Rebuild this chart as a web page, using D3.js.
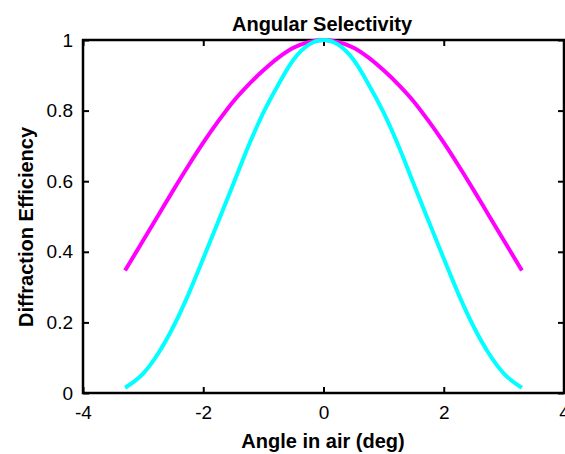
<!DOCTYPE html>
<html>
<head>
<meta charset="utf-8">
<script src="https://cdn.jsdelivr.net/npm/d3@7"></script>
<style>
  html, body { margin: 0; padding: 0; background: #fff; }
  svg { display: block; font-family: "Liberation Sans", Arial, Helvetica, sans-serif; }
</style>
</head>
<body>
<svg id="chart" width="565" height="454"></svg>
<script>
// angle in air (deg) and the two efficiency curves
const angles = [-3.3, -3, -2.75, -2.5, -2.25, -2, -1.75, -1.5, -1.25, -1, -0.75, -0.5, -0.25, 0,
                0.25, 0.5, 0.75, 1, 1.25, 1.5, 1.75, 2, 2.25, 2.5, 2.75, 3, 3.3];
const wideCurve = [0.347, 0.432, 0.503, 0.574, 0.643, 0.709, 0.770, 0.826, 0.873, 0.914, 0.950, 0.978, 0.994, 1,
                   0.994, 0.978, 0.950, 0.914, 0.873, 0.826, 0.770, 0.709, 0.643, 0.574, 0.503, 0.432, 0.347];
const narrowCurve = [0.015, 0.055, 0.112, 0.187, 0.278, 0.381, 0.486, 0.592, 0.699, 0.794, 0.874, 0.944, 0.986, 1,
                     0.986, 0.944, 0.874, 0.794, 0.699, 0.592, 0.486, 0.381, 0.278, 0.187, 0.112, 0.055, 0.015];
const xTicks = [-4, -2, 0, 2, 4];
const yTicks = [0, 0.2, 0.4, 0.6, 0.8, 1];

const width = 565, height = 454;
const margin = { top: 40, right: 1, bottom: 61, left: 83 };
const innerW = width - margin.left - margin.right;
const innerH = height - margin.top - margin.bottom;

const svg = d3.select("#chart");
const g = svg.append("g").attr("transform", `translate(${margin.left},${margin.top})`);

const x = d3.scaleLinear().domain([-4, 4]).range([0, innerW]);
const y = d3.scaleLinear().domain([0, 1]).range([innerH, 0]);

const tickFont = "19px 'Liberation Sans', Arial, sans-serif";
const labelFont = "bold 20px 'Liberation Sans', Arial, sans-serif";

// bottom axis with labels, ticks pointing inward
g.append("g")
  .attr("transform", `translate(0,${innerH})`)
  .call(d3.axisBottom(x).tickValues(xTicks).tickSize(-6).tickPadding(13).tickFormat(d => String(d)))
  .call(a => a.select(".domain").remove())
  .call(a => a.selectAll("line").attr("stroke-width", 2))
  .call(a => a.selectAll("text").style("font", tickFont).attr("fill", "#000"));

// top ticks
g.append("g")
  .call(d3.axisTop(x).tickValues(xTicks).tickSize(-6).tickFormat(""))
  .call(a => a.select(".domain").remove())
  .call(a => a.selectAll("line").attr("stroke-width", 2));

// left axis
g.append("g")
  .call(d3.axisLeft(y).tickValues(yTicks).tickSize(-6).tickPadding(10).tickFormat(d => String(d)))
  .call(a => a.select(".domain").remove())
  .call(a => a.selectAll("line").attr("stroke-width", 2))
  .call(a => a.selectAll("text").style("font", tickFont).attr("fill", "#000"));

// right ticks
g.append("g")
  .attr("transform", `translate(${innerW},0)`)
  .call(d3.axisRight(y).tickValues(yTicks).tickSize(-6).tickFormat(""))
  .call(a => a.select(".domain").remove())
  .call(a => a.selectAll("line").attr("stroke-width", 2));

// frame
g.append("rect")
  .attr("x", 0).attr("y", 0)
  .attr("width", innerW).attr("height", innerH)
  .attr("fill", "none").attr("stroke", "#000").attr("stroke-width", 2.5);

const line = d3.line()
  .x(d => x(d[0]))
  .y(d => y(d[1]))
  .curve(d3.curveMonotoneX);

g.append("path")
  .datum(angles.map((a, i) => [a, wideCurve[i]]))
  .attr("d", line)
  .attr("fill", "none")
  .attr("stroke", "#ff00ff")
  .attr("stroke-width", 4);

g.append("path")
  .datum(angles.map((a, i) => [a, narrowCurve[i]]))
  .attr("d", line)
  .attr("fill", "none")
  .attr("stroke", "#00ffff")
  .attr("stroke-width", 4);

// title and axis labels
svg.append("text")
  .attr("x", 322).attr("y", 31)
  .attr("text-anchor", "middle")
  .style("font", labelFont)
  .text("Angular Selectivity");

svg.append("text")
  .attr("x", 323).attr("y", 448)
  .attr("text-anchor", "middle")
  .style("font", labelFont)
  .text("Angle in air (deg)");

svg.append("text")
  .attr("transform", "translate(33,227) rotate(-90)")
  .attr("text-anchor", "middle")
  .style("font", labelFont)
  .text("Diffraction Efficiency");
</script>
</body>
</html>
